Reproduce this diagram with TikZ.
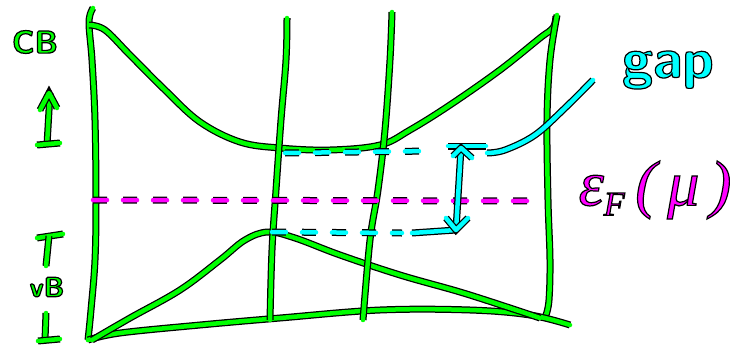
\documentclass[tikz,border=0pt]{standalone}
\usepackage{fontspec}
\newfontfamily\efont{Liberation Serif}
\definecolor{pg}{HTML}{00FF00}
\definecolor{pc}{HTML}{00FFFF}
\definecolor{pm}{HTML}{FF00FF}
\newcommand{\outl}[1]{\special{pdf:literal direct 2 Tr 1.2 w 0 0 0 RG}#1\special{pdf:literal direct 0 Tr}}
\tikzset{
  pen/.style={line width=4.5pt, line cap=round, line join=round, preaction={draw=black, line width=7pt}},
  dpen/.style={line width=4.5pt, line cap=round, dash pattern=on 14pt off 16pt, preaction={draw=black, line width=7pt, dash pattern=on 14pt off 16pt}},
  lbl/.style={inner sep=0pt, font=\sffamily\bfseries},
}
\begin{document}
\begin{tikzpicture}[x=1pt,y=-1pt]
\useasboundingbox (0,0) rectangle (751,348);
% frame and bands
\draw[pen,pg] plot[smooth,tension=0.6] coordinates {(93,8) (89,22) (92,60) (95,120) (96,200) (95,260) (91,310) (88,340)};
\draw[pen,pg] plot[smooth,tension=0.6] coordinates {(89,25) (105,30) (130,55) (165,90) (200,122) (240,142) (280,148) (330,150) (380,145) (410,130) (450,105) (500,70) (540,38) (553,28) (556,16)};
\draw[pen,pg] plot[smooth,tension=0.6] coordinates {(557,15) (550,60) (547,120) (548,200) (550,260) (549,300) (546,315)};
\draw[pen,pg] plot[smooth,tension=0.6] coordinates {(88,340) (120,333) (200,325) (280,318) (380,310) (470,310) (530,315) (570,325)};
\draw[pen,pg] plot[smooth,tension=0.6] coordinates {(92,340) (130,318) (180,290) (220,260) (245,240) (268,232) (295,238) (340,255) (400,275) (460,292) (510,308) (540,318)};
\draw[pen,pg] plot[smooth,tension=0.6] coordinates {(287,18) (286,60) (281,120) (276,190) (272,250) (270,320)};
\draw[pen,pg] plot[smooth,tension=0.6] coordinates {(392,12) (390,60) (385,130) (378,190) (370,240) (363,320)};
% Fermi level
\draw[dpen,pm] (93,200) -- (530,201);
% gap lines
\draw[dpen,pc] (285,153) -- (430,151);
\draw[dpen,pc] (272,232) -- (402,233);
\coordinate (at) at (461,148);
\coordinate (ab) at (456,230);
\draw[pen,pc] (448,146) -- (486,146);
\draw[pen,pc] (412,233) -- (ab);
\draw[pen,pc] (at) -- (ab);
\draw[pen,pc] (453,156) -- (at) -- (472,158);
\draw[pen,pc] (446,218) -- (ab) -- (468,218);
\draw[pen,pc] plot[smooth,tension=0.6] coordinates {(487,153) (505,150) (535,135) (565,108) (593,80)};
% labels
\node[lbl,pg,font=\sffamily\bfseries\fontsize{32}{32}\selectfont] (cb) at (35,42) {\outl{CB}};
\draw[pen,pg] (47,145) -- (50,93);
\draw[pen,pg] (40,110) -- (49,93) -- (57,108);
\draw[pen,pg] (37,145) -- (60,143);
\draw[pen,pg] (37,238) -- (63,234);
\draw[pen,pg] (49,236) -- (46,266);
\node[lbl,pg,font=\sffamily\bfseries\fontsize{28}{28}\selectfont] (vb) at (47,287) {\outl{vB}};
\draw[pen,pg] (46,313) -- (45,340);
\draw[pen,pg] (38,341) -- (60,339);
\node[lbl,pc,font=\sffamily\bfseries\fontsize{56}{56}\selectfont] (gap) at (668,70) {\outl{gap}};
\node[lbl,pm,font=\efont\itshape\fontsize{64}{64}\selectfont] (ef) at (655,190) {\outl{ε\raisebox{-10pt}{\fontsize{34}{34}\selectfont F}\,(\,μ\,)}};
\end{tikzpicture}
\end{document}
